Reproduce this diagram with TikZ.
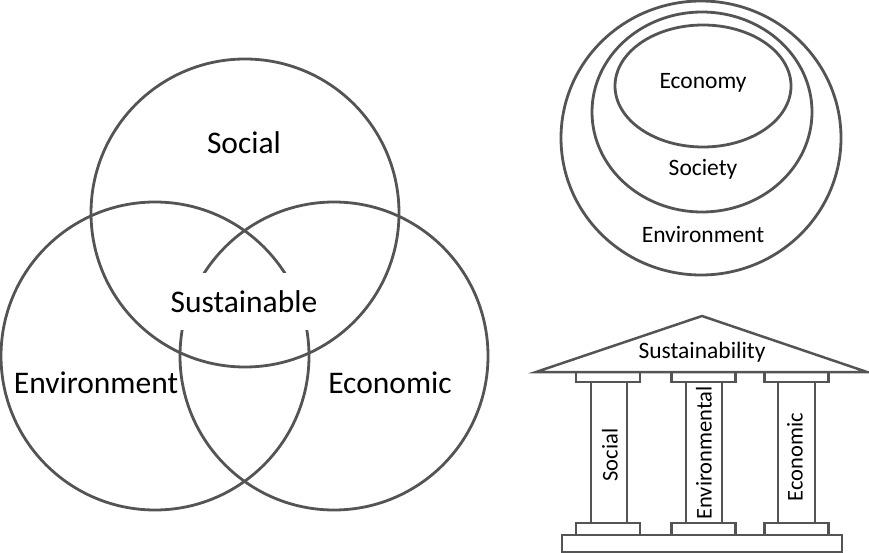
\documentclass[tikz,border=0pt]{standalone}
\usepackage{fontspec}
\setmainfont{Carlito}
\begin{document}
\begin{tikzpicture}[x=1pt,y=-1pt,
  ln/.style={draw=black!67,line width=2.8pt},
  thin/.style={draw=black!67,line width=2.5pt},
  big/.style={font=\fontsize{31.5}{36}\selectfont},
  mid/.style={font=\fontsize{23.5}{28}\selectfont},
  col/.style={font=\fontsize{22.5}{26}\selectfont,rotate=90}]
\useasboundingbox (0,0) rectangle (869,553);
% Venn
\draw[ln] (245,213) circle (154);
\draw[ln] (155,356) circle (154);
\draw[ln] (334,356) circle (154);
\node[big] (social) at (244,143) {Social};
\node[big,fill=white,minimum width=152pt,minimum height=57pt,inner sep=0pt] (sust) at (244,301.5) {Sustainable};
\node[big] (env) at (96,383) {Environment};
\node[big] (eco) at (390,383) {Economic};
% Nested
\draw[ln] (701,138) ellipse [x radius=140, y radius=137];
\draw[ln] (702,112) ellipse [x radius=110, y radius=100];
\draw[ln] (703,86) ellipse [x radius=88, y radius=61];
\node[mid] (economy) at (703,83) {Economy};
\node[mid] (society) at (703,169) {Society};
\node[mid] (environment) at (703,235) {Environment};
% Temple
\draw[thin,line join=miter] (536,372) -- (702,316) -- (867,372) -- cycle;
\node[mid] (sustainability) at (702,352) {Sustainability};
\foreach \cx in {608,703.5,796.5}{
  \draw[thin] (\cx-32,372) rectangle (\cx+32,382);
  \draw[thin] (\cx-32,523) rectangle (\cx+32,535);
}
\draw[thin] (591,382) rectangle (627,523);
\draw[thin] (686,382) rectangle (722,523);
\draw[thin] (778,382) rectangle (815,523);
\draw[thin] (562,535) rectangle (842,552);
\node[col] (csocial) at (610,455) {Social};
\node[col] (cenv) at (704,453) {Environmental};
\node[col] (ceco) at (795,457) {Economic};
\end{tikzpicture}
\end{document}
